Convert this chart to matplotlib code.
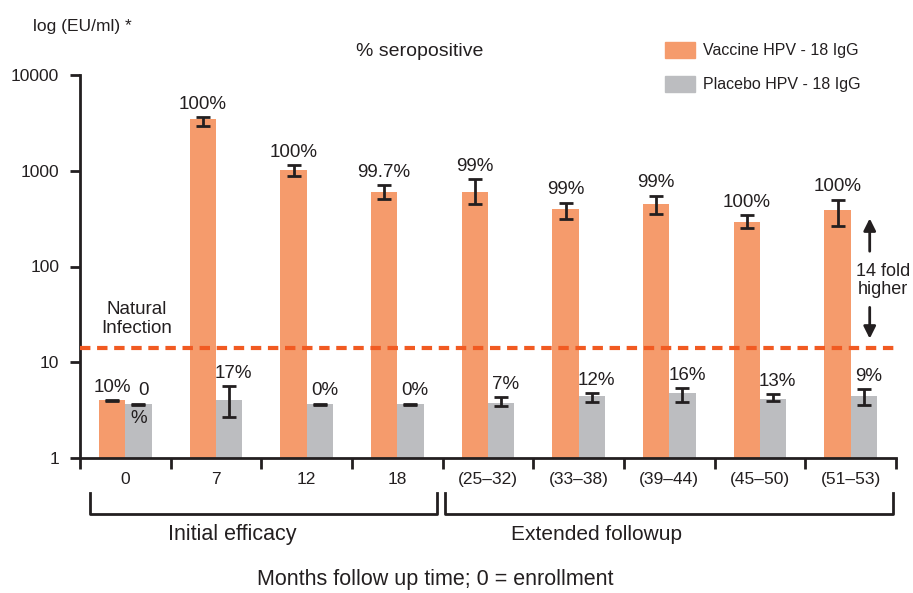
import numpy as np
import matplotlib.pyplot as plt
from matplotlib.patches import Patch

plt.rcParams['font.family'] = ['Liberation Sans Narrow', 'Liberation Sans', 'DejaVu Sans']

# data
groups = ['0', '7', '12', '18', '(25\u201332)', '(33\u201338)', '(39\u201344)', '(45\u201350)', '(51\u201353)']
vacc = [4.0, 3450, 1030, 605, 600, 395, 445, 293, 385]
vacc_lo = [3.95, 2950, 890, 510, 445, 316, 356, 254, 266]
vacc_hi = [4.05, 3650, 1150, 710, 820, 465, 550, 343, 500]
plac = [3.65, 4.0, 3.65, 3.65, 3.74, 4.43, 4.75, 4.12, 4.43]
plac_lo = [3.6, 2.67, 3.6, 3.6, 3.48, 3.83, 3.83, 3.92, 3.56]
plac_hi = [3.7, 5.6, 3.7, 3.7, 4.3, 4.75, 5.36, 4.64, 5.24]
vacc_pct = ['10%', '100%', '100%', '99.7%', '99%', '99%', '99%', '100%', '100%']
plac_pct = ['0', '17%', '0%', '0%', '7%', '12%', '16%', '13%', '9%']
natural = 14

orange = '#F59B6C'
grey = '#BCBDC0'
dark = '#231F20'
red = '#F15A22'

W, H = 913, 593
fig = plt.figure(figsize=(W/100, H/100), dpi=100)
ax = fig.add_axes([80/W, 1-458/H, (896-80)/W, (458-75)/H])

x = np.arange(len(groups))
bw = 0.29
vacc = np.array(vacc); plac = np.array(plac)
ax.bar(x-bw/2, vacc, bw, color=orange, zorder=2)
ax.bar(x+bw/2, plac, bw, color=grey, zorder=2)
ax.errorbar(x-bw/2, vacc, yerr=[vacc-np.array(vacc_lo), np.array(vacc_hi)-vacc],
            fmt='none', ecolor=dark, elinewidth=2, capsize=5, capthick=2, zorder=3)
ax.errorbar(x+bw/2, plac, yerr=[plac-np.array(plac_lo), np.array(plac_hi)-plac],
            fmt='none', ecolor=dark, elinewidth=2, capsize=5, capthick=2, zorder=3)

for i in range(len(groups)):
    ax.annotate(vacc_pct[i], (x[i]-bw/2, vacc_hi[i]), xytext=(0, 3), textcoords='offset points',
                ha='center', va='bottom', fontsize=13.5, color=dark)
    ax.annotate(plac_pct[i], (x[i]+bw/2 + 0.05, plac_hi[i]), xytext=(0, 3), textcoords='offset points',
                ha='center', va='bottom', fontsize=13.5, color=dark)
ax.annotate('%', (x[0]+bw/2, plac_lo[0]), xytext=(0, -4), textcoords='offset points',
            ha='center', va='top', fontsize=13.5, color=dark)

ax.axhline(natural, color=red, lw=3, ls=(0, (2.5, 1.6)), zorder=4)
ax.text(0.12, 18.5, 'Natural\nInfection', ha='center', va='bottom', fontsize=13.5, color=dark,
        linespacing=1.1)

# 14 fold annotation
ax.annotate('', xy=(8.21, 340), xytext=(8.21, 135),
            arrowprops=dict(arrowstyle='-|>', lw=2, color=dark, mutation_scale=18), annotation_clip=False)
ax.annotate('', xy=(8.21, 16.5), xytext=(8.21, 40),
            arrowprops=dict(arrowstyle='-|>', lw=2, color=dark, mutation_scale=18), annotation_clip=False)
ax.text(8.36, 72, '14 fold\nhigher', ha='center', va='center', fontsize=13, color=dark,
        clip_on=False, linespacing=1.1)

ax.set_yscale('log')
ax.set_ylim(1, 10000)
ax.set_xlim(-0.5, 8.5)
ax.set_yticks([1, 10, 100, 1000, 10000])
ax.set_yticklabels(['1', '10', '100', '1000', '10000'])
ax.yaxis.set_minor_locator(plt.NullLocator())
ax.set_xticks(np.arange(-0.5, 9, 1))
ax.set_xticklabels([])
ax.set_xticks(x, minor=True)
ax.set_xticklabels(groups, minor=True)
ax.tick_params(axis='x', which='major', length=8, width=2, color=dark)
ax.tick_params(axis='x', which='minor', length=0, pad=10, labelsize=12.5, labelcolor=dark)
ax.tick_params(axis='y', length=7, width=2, color=dark, labelsize=12.5, labelcolor=dark, pad=8)
for s in ['top', 'right']:
    ax.spines[s].set_visible(False)
for s in ['left', 'bottom']:
    ax.spines[s].set_linewidth(2)
    ax.spines[s].set_color(dark)

# brackets below the axis
tr = ax.get_xaxis_transform()
for x0, x1 in [(-0.39, 3.44), (3.53, 8.47)]:
    ax.plot([x0, x0, x1, x1], [-0.091, -0.146, -0.146, -0.091], color=dark, lw=2,
            transform=tr, clip_on=False)
ax.text(1.18, -0.20, 'Initial efficacy', transform=tr, ha='center', va='center', fontsize=15.5, color=dark)
ax.text(5.2, -0.20, 'Extended followup', transform=tr, ha='center', va='center', fontsize=15, color=dark)

fig.text(435/W, 1-580/H, 'Months follow up time; 0 = enrollment', ha='center', va='center',
         fontsize=15.5, color=dark)
fig.text(33/W, 1-27/H, 'log (EU/ml) *', ha='left', va='center', fontsize=12.5, color=dark)
fig.text(420/W, 1-52/H, '% seropositive', ha='center', va='center', fontsize=14, color=dark)

handles = [Patch(color=orange, label='Vaccine HPV - 18 IgG'),
           Patch(color=grey, label='Placebo HPV - 18 IgG')]
fig.legend(handles=handles, loc='upper left', bbox_to_anchor=(665/W, 1-42/H), frameon=False,
           fontsize=11.5, handlelength=1.85, handleheight=1.15, labelspacing=1.1, handletextpad=0.5,
           borderpad=0, borderaxespad=0, labelcolor=dark)

fig.savefig('out.png', dpi=100)
